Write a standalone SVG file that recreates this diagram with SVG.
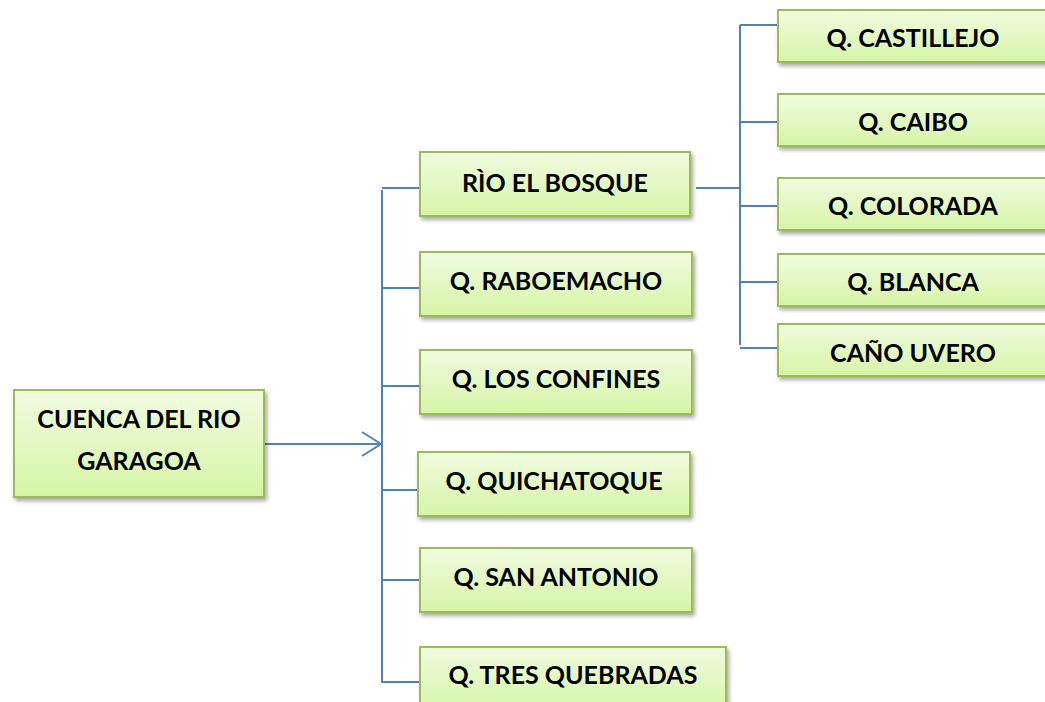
<svg xmlns="http://www.w3.org/2000/svg" width="1045" height="702" viewBox="0 0 1045 702">
<defs>
<linearGradient id="g" x1="0" y1="0" x2="0" y2="1">
<stop offset="0" stop-color="#f1fbe0"/>
<stop offset="1" stop-color="#d6f5a6"/>
</linearGradient>
<filter id="sh" x="-10%" y="-10%" width="130%" height="140%">
<feGaussianBlur in="SourceAlpha" stdDeviation="2"/>
<feOffset dx="2" dy="3" result="b"/>
<feComponentTransfer><feFuncA type="linear" slope="0.35"/></feComponentTransfer>
<feMerge><feMergeNode/><feMergeNode in="SourceGraphic"/></feMerge>
</filter>
<marker id="arr" markerWidth="24" markerHeight="28" refX="20" refY="13" orient="auto" markerUnits="userSpaceOnUse">
<path d="M1,1 L20,13 L1,25" fill="none" stroke="#4f81bd" stroke-width="2"/>
</marker>
</defs>
<style>
.box{fill:url(#g);stroke:#9bbb59;stroke-width:2;filter:url(#sh)}
.t{font-family:Lato,"Open Sans","Liberation Sans",sans-serif;font-weight:bold;font-size:25px;fill:#000;text-anchor:middle}
.c{fill:none;stroke:#4f81bd;stroke-width:2}
</style>
<rect width="1045" height="702" fill="#fff"/>
<g id="connectors">
<path class="c" d="M264,444 H381" marker-end="url(#arr)"/>
<path class="c" d="M382,190 V682 H420"/>
<path class="c" d="M382,188 H420"/>
<path class="c" d="M382,288 H420"/>
<path class="c" d="M382,386 H420"/>
<path class="c" d="M382,490 H418"/>
<path class="c" d="M382,580 H420"/>
<path class="c" d="M696,188 H740"/>
<path class="c" d="M740,25 V345"/>
<path class="c" d="M740,25 H778"/>
<path class="c" d="M740,122 H778"/>
<path class="c" d="M740,206 H778"/>
<path class="c" d="M740,282 H778"/>
<path class="c" d="M740,348 H778"/>
</g>
<g id="n-root"><rect class="box" x="14" y="390" width="250" height="107"/>
<text class="t" x="139" y="428">CUENCA DEL RIO</text><text class="t" x="139" y="470">GARAGOA</text></g>
<g id="n-bosque"><rect class="box" x="420" y="152" width="270" height="64"/><text class="t" x="555" y="192">RÌO EL BOSQUE</text></g>
<g id="n-raboemacho"><rect class="box" x="420" y="252" width="272" height="64"/><text class="t" x="556" y="290">Q. RABOEMACHO</text></g>
<g id="n-confines"><rect class="box" x="420" y="350" width="272" height="64"/><text class="t" x="556" y="388">Q. LOS CONFINES</text></g>
<g id="n-quichatoque"><rect class="box" x="418" y="452" width="272" height="64"/><text class="t" x="554" y="490">Q. QUICHATOQUE</text></g>
<g id="n-sanantonio"><rect class="box" x="420" y="548" width="272" height="64"/><text class="t" x="556" y="586">Q. SAN ANTONIO</text></g>
<g id="n-tres"><rect class="box" x="420" y="647" width="306" height="64"/><text class="t" x="573" y="684">Q. TRES QUEBRADAS</text></g>
<g id="n-castillejo"><rect class="box" x="778" y="10" width="272" height="52"/><text class="t" x="913" y="47">Q. CASTILLEJO</text></g>
<g id="n-caibo"><rect class="box" x="778" y="94" width="272" height="52"/><text class="t" x="913" y="131">Q. CAIBO</text></g>
<g id="n-colorada"><rect class="box" x="778" y="178" width="272" height="52"/><text class="t" x="913" y="215">Q. COLORADA</text></g>
<g id="n-blanca"><rect class="box" x="778" y="254" width="272" height="52"/><text class="t" x="913" y="291">Q. BLANCA</text></g>
<g id="n-uvero"><rect class="box" x="778" y="324" width="272" height="52"/><text class="t" x="913" y="362">CAÑO UVERO</text></g>
</svg>
